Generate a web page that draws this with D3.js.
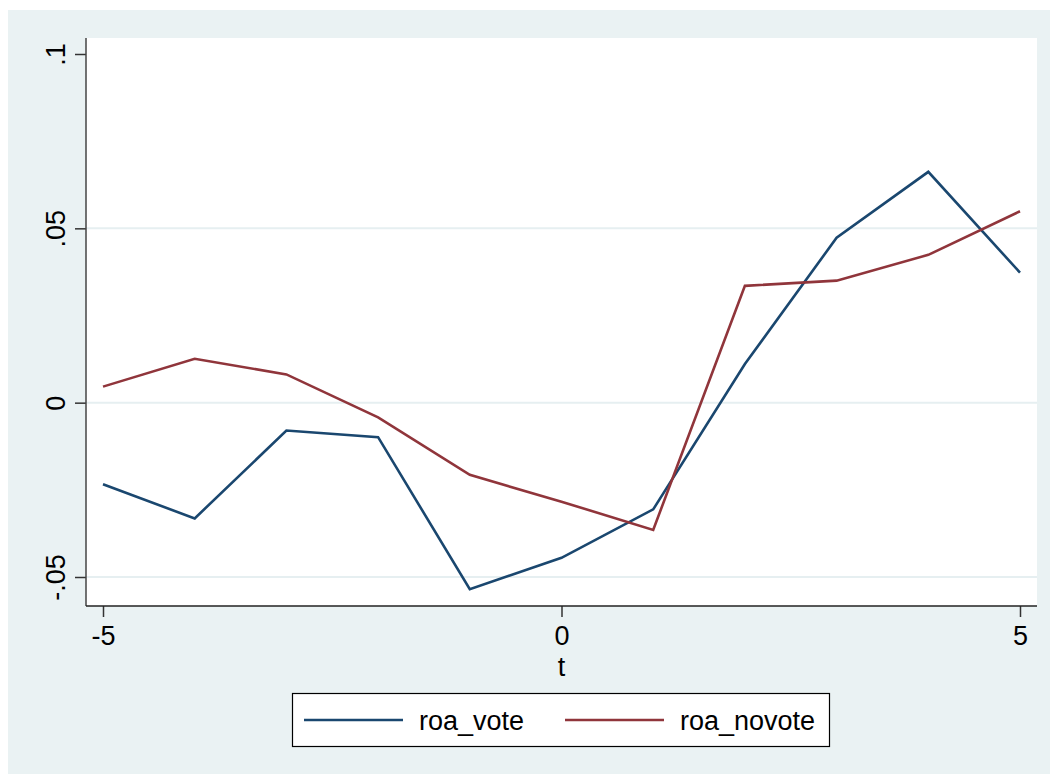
<!DOCTYPE html>
<html>
<head>
<meta charset="utf-8">
<script src="https://cdn.jsdelivr.net/npm/d3@7"></script>
<style>
	body { margin: 0; background: #ffffff; }
	svg text { font-family: "Liberation Sans", Arial, sans-serif; fill: #000; }
</style>
</head>
<body>
<svg id="chart" width="1050" height="774"></svg>
<script>
// values
var t_values = [-5, -4, -3, -2, -1, 0, 1, 2, 3, 4, 5];
var roa_vote = [-0.0234, -0.0332, -0.0080, -0.0099, -0.0535, -0.0445, -0.0306, 0.0111, 0.0473, 0.0662, 0.0373];
var roa_novote = [0.0046, 0.0126, 0.0081, -0.0042, -0.0207, -0.0284, -0.0365, 0.0335, 0.0350, 0.0424, 0.0549];
var y_ticks = [-0.05, 0, 0.05, 0.1];
var y_tick_labels = ["-.05", "0", ".05", ".1"];
var x_ticks = [-5, 0, 5];
var x_tick_labels = ["-5", "0", "5"];
var grid_ticks = [-0.05, 0, 0.05];
var series_names = ["roa_vote", "roa_novote"];
var series_colors = ["#1a476f", "#90353b"];

var svg = d3.select("#chart");

var plot = {left: 86, right: 1037, top: 38, bottom: 606};

// outer stata-like background
svg.append("rect")
	.attr("x", 8).attr("y", 10)
	.attr("width", 1042).attr("height", 764)
	.attr("fill", "#eaf2f3");

svg.append("rect")
	.attr("x", plot.left).attr("y", plot.top)
	.attr("width", plot.right - plot.left)
	.attr("height", plot.bottom - plot.top)
	.attr("fill", "#ffffff");

var xScale = d3.scaleLinear()
	.domain([-5, 5])
	.range([103, 1020]);
var yScale = d3.scaleLinear()
	.domain([-0.05, 0.1])
	.range([577, 54]);

// grid
svg.append("g")
	.selectAll("line")
	.data(grid_ticks)
	.enter()
		.append("line")
		.attr("x1", plot.left)
		.attr("x2", plot.right)
		.attr("y1", function(d) {return yScale(d);})
		.attr("y2", function(d) {return yScale(d);})
		.attr("stroke", "#e6eff1")
		.attr("stroke-width", 2);

// y axis
var yAxis = svg.append("g")
	.attr("transform", "translate(" + plot.left + ",0)")
	.call(d3.axisLeft(yScale)
		.tickValues(y_ticks)
		.tickSize(11)
		.tickFormat(function(d, i) {return y_tick_labels[i];}));
yAxis.select(".domain").remove();
yAxis.selectAll(".tick line").attr("stroke", "#333").attr("stroke-width", 1.5);
yAxis.selectAll(".tick text")
	.attr("transform", "rotate(-90)")
	.attr("x", 0)
	.attr("y", -21)
	.attr("dy", 0)
	.attr("text-anchor", "middle")
	.style("font-size", "27px");

// x axis
var xAxis = svg.append("g")
	.attr("transform", "translate(0," + plot.bottom + ")")
	.call(d3.axisBottom(xScale)
		.tickValues(x_ticks)
		.tickSize(11)
		.tickFormat(function(d, i) {return x_tick_labels[i];}));
xAxis.select(".domain").remove();
xAxis.selectAll(".tick line").attr("stroke", "#333").attr("stroke-width", 1.5);
xAxis.selectAll(".tick text")
	.attr("y", 39)
	.attr("dy", 0)
	.style("font-size", "27px");

// axis lines
svg.append("line")
	.attr("x1", plot.left).attr("x2", plot.left)
	.attr("y1", plot.top).attr("y2", plot.bottom)
	.attr("stroke", "#444").attr("stroke-width", 1.5);
svg.append("line")
	.attr("x1", plot.left).attr("x2", plot.right)
	.attr("y1", plot.bottom).attr("y2", plot.bottom)
	.attr("stroke", "#222").attr("stroke-width", 1.5);

svg.append("text")
	.attr("x", xScale(0))
	.attr("y", 676)
	.attr("text-anchor", "middle")
	.style("font-size", "27px")
	.text("t");

// series
var all_series = [roa_vote, roa_novote];
var line = d3.line()
	.x(function(d, i) {return xScale(t_values[i]);})
	.y(function(d) {return yScale(d);});

svg.append("g")
	.selectAll("path")
	.data(all_series)
	.enter()
		.append("path")
		.attr("d", function(d) {return line(d);})
		.attr("fill", "none")
		.attr("stroke", function(d, i) {return series_colors[i];})
		.attr("stroke-width", 2.6)
		.attr("stroke-linejoin", "miter");

// legend
var legend = svg.append("g");
legend.append("rect")
	.attr("x", 292.5).attr("y", 693.5)
	.attr("width", 537).attr("height", 53)
	.attr("fill", "#ffffff")
	.attr("stroke", "#000")
	.attr("stroke-width", 1.2);

var legend_x = [304, 565];
var items = legend.selectAll(".legend_item")
	.data(series_names)
	.enter()
		.append("g")
		.attr("class", "legend_item")
		.attr("transform", function(d, i) {return "translate(" + legend_x[i] + ",720)";});
items.append("line")
	.attr("x1", 0).attr("x2", 99)
	.attr("y1", 0).attr("y2", 0)
	.attr("stroke", function(d, i) {return series_colors[i];})
	.attr("stroke-width", 2.6);
items.append("text")
	.attr("x", 115)
	.attr("y", 10)
	.style("font-size", "27px")
	.text(function(d) {return d;});
</script>
</body>
</html>
